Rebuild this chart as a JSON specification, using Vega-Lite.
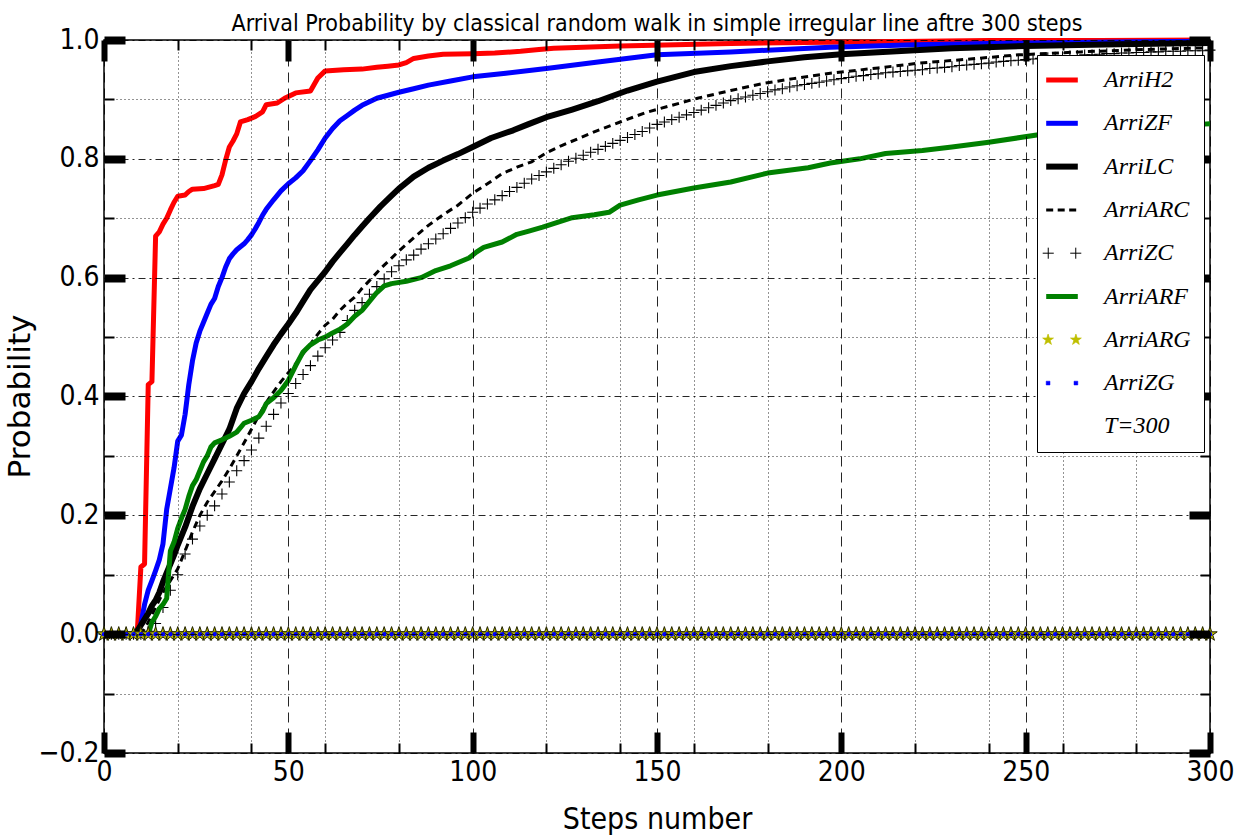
{
"$schema": "https://vega.github.io/schema/vega-lite/v6.json",
"width": 1106, "height": 713,
"autosize": {"type": "none"},
"padding": {"left": 104, "top": 40, "right": 33, "bottom": 86},
"background": "#ffffff",
"title": {"text": "Arrival Probability by classical random walk in simple irregular line aftre 300 steps", "font": "DejaVu Sans Condensed, Liberation Sans Narrow, DejaVu Sans", "fontSize": 23, "fontWeight": "normal", "color": "#000", "anchor": "middle", "frame": "group", "baseline": "alphabetic", "offset": -28},
"config": {"view": {"stroke": "#000", "strokeWidth": 1.5}},
"datasets": {
"lines": [
{"s":"ArriH2","x":0,"p":0},{"s":"ArriH2","x":9,"p":0},{"s":"ArriH2","x":10,"p":0.113},{"s":"ArriH2","x":11,"p":0.118},{"s":"ArriH2","x":12,"p":0.42},{"s":"ArriH2","x":13,"p":0.425},{"s":"ArriH2","x":14,"p":0.67},{"s":"ArriH2","x":15,"p":0.677},{"s":"ArriH2","x":16,"p":0.69},{"s":"ArriH2","x":17,"p":0.7},{"s":"ArriH2","x":18,"p":0.714},{"s":"ArriH2","x":19,"p":0.727},{"s":"ArriH2","x":20,"p":0.737},{"s":"ArriH2","x":22,"p":0.739},{"s":"ArriH2","x":23,"p":0.745},{"s":"ArriH2","x":24,"p":0.749},{"s":"ArriH2","x":27,"p":0.75},{"s":"ArriH2","x":30,"p":0.755},{"s":"ArriH2","x":31,"p":0.757},{"s":"ArriH2","x":32,"p":0.773},{"s":"ArriH2","x":33,"p":0.798},{"s":"ArriH2","x":34,"p":0.82},{"s":"ArriH2","x":35,"p":0.83},{"s":"ArriH2","x":36,"p":0.842},{"s":"ArriH2","x":37,"p":0.862},{"s":"ArriH2","x":39,"p":0.866},{"s":"ArriH2","x":41,"p":0.871},{"s":"ArriH2","x":43,"p":0.879},{"s":"ArriH2","x":44,"p":0.891},{"s":"ArriH2","x":47,"p":0.894},{"s":"ArriH2","x":49,"p":0.902},{"s":"ArriH2","x":50,"p":0.905},{"s":"ArriH2","x":52,"p":0.911},{"s":"ArriH2","x":56,"p":0.914},{"s":"ArriH2","x":57,"p":0.925},{"s":"ArriH2","x":58,"p":0.936},{"s":"ArriH2","x":60,"p":0.948},{"s":"ArriH2","x":65,"p":0.95},{"s":"ArriH2","x":70,"p":0.951},{"s":"ArriH2","x":74,"p":0.954},{"s":"ArriH2","x":77,"p":0.956},{"s":"ArriH2","x":80,"p":0.958},{"s":"ArriH2","x":82,"p":0.962},{"s":"ArriH2","x":84,"p":0.969},{"s":"ArriH2","x":88,"p":0.973},{"s":"ArriH2","x":92,"p":0.976},{"s":"ArriH2","x":100,"p":0.977},{"s":"ArriH2","x":106,"p":0.978},{"s":"ArriH2","x":113,"p":0.981},{"s":"ArriH2","x":118,"p":0.984},{"s":"ArriH2","x":122,"p":0.986},{"s":"ArriH2","x":130,"p":0.988},{"s":"ArriH2","x":140,"p":0.99},{"s":"ArriH2","x":155,"p":0.992},{"s":"ArriH2","x":170,"p":0.994},{"s":"ArriH2","x":190,"p":0.996},{"s":"ArriH2","x":210,"p":0.997},{"s":"ArriH2","x":240,"p":0.999},{"s":"ArriH2","x":270,"p":0.999},{"s":"ArriH2","x":300,"p":1.0},
{"s":"ArriZF","x":0,"p":0},{"s":"ArriZF","x":9,"p":0},{"s":"ArriZF","x":10,"p":0.018},{"s":"ArriZF","x":11,"p":0.05},{"s":"ArriZF","x":12,"p":0.074},{"s":"ArriZF","x":13,"p":0.09},{"s":"ArriZF","x":14,"p":0.107},{"s":"ArriZF","x":15,"p":0.125},{"s":"ArriZF","x":16,"p":0.152},{"s":"ArriZF","x":17,"p":0.21},{"s":"ArriZF","x":18,"p":0.245},{"s":"ArriZF","x":19,"p":0.28},{"s":"ArriZF","x":20,"p":0.325},{"s":"ArriZF","x":21,"p":0.335},{"s":"ArriZF","x":22,"p":0.37},{"s":"ArriZF","x":23,"p":0.42},{"s":"ArriZF","x":24,"p":0.46},{"s":"ArriZF","x":25,"p":0.49},{"s":"ArriZF","x":26,"p":0.51},{"s":"ArriZF","x":27,"p":0.525},{"s":"ArriZF","x":28,"p":0.54},{"s":"ArriZF","x":29,"p":0.555},{"s":"ArriZF","x":30,"p":0.565},{"s":"ArriZF","x":31,"p":0.585},{"s":"ArriZF","x":32,"p":0.6},{"s":"ArriZF","x":33,"p":0.618},{"s":"ArriZF","x":34,"p":0.632},{"s":"ArriZF","x":35,"p":0.64},{"s":"ArriZF","x":36,"p":0.647},{"s":"ArriZF","x":37,"p":0.652},{"s":"ArriZF","x":38,"p":0.657},{"s":"ArriZF","x":39,"p":0.664},{"s":"ArriZF","x":40,"p":0.672},{"s":"ArriZF","x":41,"p":0.682},{"s":"ArriZF","x":42,"p":0.693},{"s":"ArriZF","x":43,"p":0.705},{"s":"ArriZF","x":44,"p":0.715},{"s":"ArriZF","x":46,"p":0.731},{"s":"ArriZF","x":48,"p":0.746},{"s":"ArriZF","x":50,"p":0.758},{"s":"ArriZF","x":52,"p":0.768},{"s":"ArriZF","x":54,"p":0.78},{"s":"ArriZF","x":56,"p":0.797},{"s":"ArriZF","x":58,"p":0.815},{"s":"ArriZF","x":60,"p":0.835},{"s":"ArriZF","x":62,"p":0.851},{"s":"ArriZF","x":64,"p":0.864},{"s":"ArriZF","x":66,"p":0.873},{"s":"ArriZF","x":68,"p":0.882},{"s":"ArriZF","x":70,"p":0.89},{"s":"ArriZF","x":72,"p":0.896},{"s":"ArriZF","x":74,"p":0.902},{"s":"ArriZF","x":77,"p":0.907},{"s":"ArriZF","x":80,"p":0.912},{"s":"ArriZF","x":84,"p":0.918},{"s":"ArriZF","x":88,"p":0.924},{"s":"ArriZF","x":94,"p":0.931},{"s":"ArriZF","x":100,"p":0.938},{"s":"ArriZF","x":109,"p":0.944},{"s":"ArriZF","x":120,"p":0.952},{"s":"ArriZF","x":134,"p":0.963},{"s":"ArriZF","x":150,"p":0.975},{"s":"ArriZF","x":170,"p":0.98},{"s":"ArriZF","x":197,"p":0.988},{"s":"ArriZF","x":220,"p":0.992},{"s":"ArriZF","x":250,"p":0.995},{"s":"ArriZF","x":280,"p":0.997},{"s":"ArriZF","x":300,"p":0.998},
{"s":"ArriLC","x":0,"p":0},{"s":"ArriLC","x":8,"p":0},{"s":"ArriLC","x":9,"p":0.005},{"s":"ArriLC","x":10,"p":0.015},{"s":"ArriLC","x":11,"p":0.025},{"s":"ArriLC","x":12,"p":0.035},{"s":"ArriLC","x":13,"p":0.048},{"s":"ArriLC","x":14,"p":0.057},{"s":"ArriLC","x":15,"p":0.07},{"s":"ArriLC","x":16,"p":0.088},{"s":"ArriLC","x":17,"p":0.103},{"s":"ArriLC","x":18,"p":0.118},{"s":"ArriLC","x":19,"p":0.133},{"s":"ArriLC","x":20,"p":0.15},{"s":"ArriLC","x":22,"p":0.18},{"s":"ArriLC","x":24,"p":0.215},{"s":"ArriLC","x":26,"p":0.245},{"s":"ArriLC","x":28,"p":0.27},{"s":"ArriLC","x":30,"p":0.295},{"s":"ArriLC","x":32,"p":0.32},{"s":"ArriLC","x":34,"p":0.345},{"s":"ArriLC","x":36,"p":0.38},{"s":"ArriLC","x":38,"p":0.405},{"s":"ArriLC","x":40,"p":0.425},{"s":"ArriLC","x":42,"p":0.447},{"s":"ArriLC","x":44,"p":0.467},{"s":"ArriLC","x":46,"p":0.487},{"s":"ArriLC","x":48,"p":0.505},{"s":"ArriLC","x":50,"p":0.522},{"s":"ArriLC","x":52,"p":0.54},{"s":"ArriLC","x":54,"p":0.56},{"s":"ArriLC","x":56,"p":0.58},{"s":"ArriLC","x":58,"p":0.595},{"s":"ArriLC","x":60,"p":0.61},{"s":"ArriLC","x":62,"p":0.627},{"s":"ArriLC","x":64,"p":0.642},{"s":"ArriLC","x":66,"p":0.657},{"s":"ArriLC","x":68,"p":0.672},{"s":"ArriLC","x":70,"p":0.686},{"s":"ArriLC","x":72,"p":0.7},{"s":"ArriLC","x":75,"p":0.72},{"s":"ArriLC","x":78,"p":0.738},{"s":"ArriLC","x":80,"p":0.75},{"s":"ArriLC","x":84,"p":0.77},{"s":"ArriLC","x":88,"p":0.785},{"s":"ArriLC","x":92,"p":0.797},{"s":"ArriLC","x":96,"p":0.808},{"s":"ArriLC","x":100,"p":0.82},{"s":"ArriLC","x":105,"p":0.835},{"s":"ArriLC","x":111,"p":0.848},{"s":"ArriLC","x":115,"p":0.858},{"s":"ArriLC","x":120,"p":0.87},{"s":"ArriLC","x":127,"p":0.883},{"s":"ArriLC","x":134,"p":0.897},{"s":"ArriLC","x":142,"p":0.915},{"s":"ArriLC","x":150,"p":0.93},{"s":"ArriLC","x":160,"p":0.946},{"s":"ArriLC","x":170,"p":0.956},{"s":"ArriLC","x":180,"p":0.964},{"s":"ArriLC","x":190,"p":0.971},{"s":"ArriLC","x":200,"p":0.976},{"s":"ArriLC","x":215,"p":0.981},{"s":"ArriLC","x":230,"p":0.986},{"s":"ArriLC","x":250,"p":0.99},{"s":"ArriLC","x":275,"p":0.993},{"s":"ArriLC","x":300,"p":0.995},
{"s":"ArriARC","x":0,"p":0},{"s":"ArriARC","x":10,"p":0},{"s":"ArriARC","x":12,"p":0.02},{"s":"ArriARC","x":14,"p":0.045},{"s":"ArriARC","x":16,"p":0.07},{"s":"ArriARC","x":18,"p":0.09},{"s":"ArriARC","x":20,"p":0.11},{"s":"ArriARC","x":22,"p":0.14},{"s":"ArriARC","x":24,"p":0.172},{"s":"ArriARC","x":26,"p":0.2},{"s":"ArriARC","x":28,"p":0.222},{"s":"ArriARC","x":30,"p":0.24},{"s":"ArriARC","x":32,"p":0.258},{"s":"ArriARC","x":34,"p":0.278},{"s":"ArriARC","x":36,"p":0.3},{"s":"ArriARC","x":38,"p":0.322},{"s":"ArriARC","x":40,"p":0.345},{"s":"ArriARC","x":42,"p":0.368},{"s":"ArriARC","x":44,"p":0.39},{"s":"ArriARC","x":46,"p":0.408},{"s":"ArriARC","x":48,"p":0.425},{"s":"ArriARC","x":50,"p":0.44},{"s":"ArriARC","x":52,"p":0.455},{"s":"ArriARC","x":54,"p":0.472},{"s":"ArriARC","x":56,"p":0.488},{"s":"ArriARC","x":58,"p":0.505},{"s":"ArriARC","x":60,"p":0.52},{"s":"ArriARC","x":62,"p":0.53},{"s":"ArriARC","x":64,"p":0.545},{"s":"ArriARC","x":66,"p":0.557},{"s":"ArriARC","x":68,"p":0.567},{"s":"ArriARC","x":70,"p":0.582},{"s":"ArriARC","x":72,"p":0.595},{"s":"ArriARC","x":75,"p":0.615},{"s":"ArriARC","x":78,"p":0.633},{"s":"ArriARC","x":80,"p":0.645},{"s":"ArriARC","x":84,"p":0.667},{"s":"ArriARC","x":88,"p":0.688},{"s":"ArriARC","x":92,"p":0.706},{"s":"ArriARC","x":96,"p":0.722},{"s":"ArriARC","x":100,"p":0.742},{"s":"ArriARC","x":104,"p":0.758},{"s":"ArriARC","x":108,"p":0.775},{"s":"ArriARC","x":112,"p":0.786},{"s":"ArriARC","x":116,"p":0.795},{"s":"ArriARC","x":120,"p":0.81},{"s":"ArriARC","x":124,"p":0.822},{"s":"ArriARC","x":129,"p":0.835},{"s":"ArriARC","x":134,"p":0.848},{"s":"ArriARC","x":140,"p":0.862},{"s":"ArriARC","x":147,"p":0.878},{"s":"ArriARC","x":154,"p":0.89},{"s":"ArriARC","x":161,"p":0.902},{"s":"ArriARC","x":170,"p":0.915},{"s":"ArriARC","x":179,"p":0.927},{"s":"ArriARC","x":187,"p":0.935},{"s":"ArriARC","x":197,"p":0.944},{"s":"ArriARC","x":210,"p":0.953},{"s":"ArriARC","x":221,"p":0.961},{"s":"ArriARC","x":235,"p":0.968},{"s":"ArriARC","x":248,"p":0.975},{"s":"ArriARC","x":265,"p":0.98},{"s":"ArriARC","x":282,"p":0.984},{"s":"ArriARC","x":300,"p":0.987},
{"s":"ArriARF","x":0,"p":0},{"s":"ArriARF","x":12,"p":0},{"s":"ArriARF","x":13,"p":0.02},{"s":"ArriARF","x":14,"p":0.03},{"s":"ArriARF","x":15,"p":0.043},{"s":"ArriARF","x":16,"p":0.05},{"s":"ArriARF","x":17,"p":0.06},{"s":"ArriARF","x":18,"p":0.14},{"s":"ArriARF","x":19,"p":0.155},{"s":"ArriARF","x":20,"p":0.178},{"s":"ArriARF","x":21,"p":0.195},{"s":"ArriARF","x":22,"p":0.21},{"s":"ArriARF","x":23,"p":0.232},{"s":"ArriARF","x":24,"p":0.25},{"s":"ArriARF","x":25,"p":0.26},{"s":"ArriARF","x":26,"p":0.275},{"s":"ArriARF","x":27,"p":0.29},{"s":"ArriARF","x":28,"p":0.3},{"s":"ArriARF","x":29,"p":0.315},{"s":"ArriARF","x":30,"p":0.322},{"s":"ArriARF","x":32,"p":0.327},{"s":"ArriARF","x":34,"p":0.333},{"s":"ArriARF","x":36,"p":0.34},{"s":"ArriARF","x":38,"p":0.355},{"s":"ArriARF","x":40,"p":0.36},{"s":"ArriARF","x":42,"p":0.366},{"s":"ArriARF","x":43,"p":0.375},{"s":"ArriARF","x":44,"p":0.388},{"s":"ArriARF","x":46,"p":0.398},{"s":"ArriARF","x":48,"p":0.41},{"s":"ArriARF","x":50,"p":0.427},{"s":"ArriARF","x":52,"p":0.452},{"s":"ArriARF","x":54,"p":0.475},{"s":"ArriARF","x":56,"p":0.487},{"s":"ArriARF","x":58,"p":0.495},{"s":"ArriARF","x":60,"p":0.5},{"s":"ArriARF","x":62,"p":0.507},{"s":"ArriARF","x":64,"p":0.513},{"s":"ArriARF","x":66,"p":0.522},{"s":"ArriARF","x":68,"p":0.535},{"s":"ArriARF","x":70,"p":0.545},{"s":"ArriARF","x":72,"p":0.56},{"s":"ArriARF","x":74,"p":0.575},{"s":"ArriARF","x":76,"p":0.586},{"s":"ArriARF","x":78,"p":0.59},{"s":"ArriARF","x":82,"p":0.594},{"s":"ArriARF","x":86,"p":0.6},{"s":"ArriARF","x":90,"p":0.612},{"s":"ArriARF","x":94,"p":0.62},{"s":"ArriARF","x":99,"p":0.633},{"s":"ArriARF","x":101,"p":0.643},{"s":"ArriARF","x":103,"p":0.651},{"s":"ArriARF","x":108,"p":0.66},{"s":"ArriARF","x":112,"p":0.673},{"s":"ArriARF","x":115,"p":0.678},{"s":"ArriARF","x":119,"p":0.685},{"s":"ArriARF","x":123,"p":0.693},{"s":"ArriARF","x":127,"p":0.701},{"s":"ArriARF","x":133,"p":0.706},{"s":"ArriARF","x":137,"p":0.71},{"s":"ArriARF","x":140,"p":0.722},{"s":"ArriARF","x":145,"p":0.731},{"s":"ArriARF","x":150,"p":0.739},{"s":"ArriARF","x":160,"p":0.751},{"s":"ArriARF","x":170,"p":0.761},{"s":"ArriARF","x":180,"p":0.776},{"s":"ArriARF","x":191,"p":0.785},{"s":"ArriARF","x":197,"p":0.793},{"s":"ArriARF","x":205,"p":0.8},{"s":"ArriARF","x":212,"p":0.809},{"s":"ArriARF","x":222,"p":0.814},{"s":"ArriARF","x":230,"p":0.82},{"s":"ArriARF","x":240,"p":0.828},{"s":"ArriARF","x":253,"p":0.84},{"s":"ArriARF","x":265,"p":0.845},{"s":"ArriARF","x":280,"p":0.85},{"s":"ArriARF","x":290,"p":0.853},{"s":"ArriARF","x":297,"p":0.858},{"s":"ArriARF","x":300,"p":0.859}
],
"dense": [
{"x":0,"zc":0,"arg":0,"zg":0},{"x":2,"zc":0,"arg":0,"zg":0},{"x":4,"zc":0,"arg":0,"zg":0},{"x":6,"zc":0,"arg":0,"zg":0},{"x":8,"zc":0,"arg":0,"zg":0},{"x":10,"zc":0,"arg":0,"zg":0},{"x":12,"zc":0.005,"arg":0,"zg":0},{"x":14,"zc":0.018,"arg":0,"zg":0},{"x":16,"zc":0.045,"arg":0,"zg":0},{"x":18,"zc":0.074,"arg":0,"zg":0},{"x":20,"zc":0.1,"arg":0,"zg":0},{"x":22,"zc":0.135,"arg":0,"zg":0},{"x":24,"zc":0.16,"arg":0,"zg":0},{"x":26,"zc":0.182,"arg":0,"zg":0},{"x":28,"zc":0.2,"arg":0,"zg":0},{"x":30,"zc":0.216,"arg":0,"zg":0},{"x":32,"zc":0.236,"arg":0,"zg":0},{"x":34,"zc":0.256,"arg":0,"zg":0},{"x":36,"zc":0.275,"arg":0,"zg":0},{"x":38,"zc":0.292,"arg":0,"zg":0},{"x":40,"zc":0.31,"arg":0,"zg":0},{"x":42,"zc":0.33,"arg":0,"zg":0},{"x":44,"zc":0.35,"arg":0,"zg":0},{"x":46,"zc":0.37,"arg":0,"zg":0},{"x":48,"zc":0.389,"arg":0,"zg":0},{"x":50,"zc":0.405,"arg":0,"zg":0},{"x":52,"zc":0.422,"arg":0,"zg":0},{"x":54,"zc":0.437,"arg":0,"zg":0},{"x":56,"zc":0.452,"arg":0,"zg":0},{"x":58,"zc":0.468,"arg":0,"zg":0},{"x":60,"zc":0.482,"arg":0,"zg":0},{"x":62,"zc":0.495,"arg":0,"zg":0},{"x":64,"zc":0.508,"arg":0,"zg":0},{"x":66,"zc":0.528,"arg":0,"zg":0},{"x":68,"zc":0.545,"arg":0,"zg":0},{"x":70,"zc":0.558,"arg":0,"zg":0},{"x":72,"zc":0.572,"arg":0,"zg":0},{"x":74,"zc":0.585,"arg":0,"zg":0},{"x":76,"zc":0.598,"arg":0,"zg":0},{"x":78,"zc":0.61,"arg":0,"zg":0},{"x":80,"zc":0.62,"arg":0,"zg":0},{"x":82,"zc":0.63,"arg":0,"zg":0},{"x":84,"zc":0.638,"arg":0,"zg":0},{"x":86,"zc":0.648,"arg":0,"zg":0},{"x":88,"zc":0.657,"arg":0,"zg":0},{"x":90,"zc":0.665,"arg":0,"zg":0},{"x":92,"zc":0.674,"arg":0,"zg":0},{"x":94,"zc":0.683,"arg":0,"zg":0},{"x":96,"zc":0.692,"arg":0,"zg":0},{"x":98,"zc":0.701,"arg":0,"zg":0},{"x":100,"zc":0.71,"arg":0,"zg":0},
{"x":102,"zc":0.717,"arg":0,"zg":0},{"x":104,"zc":0.724,"arg":0,"zg":0},{"x":106,"zc":0.731,"arg":0,"zg":0},{"x":108,"zc":0.738,"arg":0,"zg":0},{"x":110,"zc":0.745,"arg":0,"zg":0},{"x":112,"zc":0.752,"arg":0,"zg":0},{"x":114,"zc":0.759,"arg":0,"zg":0},{"x":116,"zc":0.766,"arg":0,"zg":0},{"x":118,"zc":0.772,"arg":0,"zg":0},{"x":120,"zc":0.778,"arg":0,"zg":0},{"x":122,"zc":0.784,"arg":0,"zg":0},{"x":124,"zc":0.79,"arg":0,"zg":0},{"x":126,"zc":0.796,"arg":0,"zg":0},{"x":128,"zc":0.801,"arg":0,"zg":0},{"x":130,"zc":0.806,"arg":0,"zg":0},{"x":132,"zc":0.811,"arg":0,"zg":0},{"x":134,"zc":0.816,"arg":0,"zg":0},{"x":136,"zc":0.821,"arg":0,"zg":0},{"x":138,"zc":0.826,"arg":0,"zg":0},{"x":140,"zc":0.831,"arg":0,"zg":0},{"x":142,"zc":0.836,"arg":0,"zg":0},{"x":144,"zc":0.841,"arg":0,"zg":0},{"x":146,"zc":0.846,"arg":0,"zg":0},{"x":148,"zc":0.852,"arg":0,"zg":0},{"x":150,"zc":0.858,"arg":0,"zg":0},{"x":152,"zc":0.862,"arg":0,"zg":0},{"x":154,"zc":0.866,"arg":0,"zg":0},{"x":156,"zc":0.87,"arg":0,"zg":0},{"x":158,"zc":0.874,"arg":0,"zg":0},{"x":160,"zc":0.878,"arg":0,"zg":0},{"x":162,"zc":0.882,"arg":0,"zg":0},{"x":164,"zc":0.886,"arg":0,"zg":0},{"x":166,"zc":0.89,"arg":0,"zg":0},{"x":168,"zc":0.894,"arg":0,"zg":0},{"x":170,"zc":0.898,"arg":0,"zg":0},{"x":172,"zc":0.901,"arg":0,"zg":0},{"x":174,"zc":0.904,"arg":0,"zg":0},{"x":176,"zc":0.907,"arg":0,"zg":0},{"x":178,"zc":0.91,"arg":0,"zg":0},{"x":180,"zc":0.913,"arg":0,"zg":0},{"x":182,"zc":0.916,"arg":0,"zg":0},{"x":184,"zc":0.918,"arg":0,"zg":0},{"x":186,"zc":0.921,"arg":0,"zg":0},{"x":188,"zc":0.923,"arg":0,"zg":0},{"x":190,"zc":0.925,"arg":0,"zg":0},{"x":192,"zc":0.927,"arg":0,"zg":0},{"x":194,"zc":0.929,"arg":0,"zg":0},{"x":196,"zc":0.931,"arg":0,"zg":0},{"x":198,"zc":0.933,"arg":0,"zg":0},{"x":200,"zc":0.935,"arg":0,"zg":0},
{"x":202,"zc":0.937,"arg":0,"zg":0},{"x":204,"zc":0.939,"arg":0,"zg":0},{"x":206,"zc":0.94,"arg":0,"zg":0},{"x":208,"zc":0.942,"arg":0,"zg":0},{"x":210,"zc":0.943,"arg":0,"zg":0},{"x":212,"zc":0.945,"arg":0,"zg":0},{"x":214,"zc":0.946,"arg":0,"zg":0},{"x":216,"zc":0.947,"arg":0,"zg":0},{"x":218,"zc":0.948,"arg":0,"zg":0},{"x":220,"zc":0.949,"arg":0,"zg":0},{"x":222,"zc":0.95,"arg":0,"zg":0},{"x":224,"zc":0.952,"arg":0,"zg":0},{"x":226,"zc":0.953,"arg":0,"zg":0},{"x":228,"zc":0.954,"arg":0,"zg":0},{"x":230,"zc":0.955,"arg":0,"zg":0},{"x":232,"zc":0.957,"arg":0,"zg":0},{"x":234,"zc":0.958,"arg":0,"zg":0},{"x":236,"zc":0.959,"arg":0,"zg":0},{"x":238,"zc":0.96,"arg":0,"zg":0},{"x":240,"zc":0.961,"arg":0,"zg":0},{"x":242,"zc":0.963,"arg":0,"zg":0},{"x":244,"zc":0.964,"arg":0,"zg":0},{"x":246,"zc":0.965,"arg":0,"zg":0},{"x":248,"zc":0.966,"arg":0,"zg":0},{"x":250,"zc":0.967,"arg":0,"zg":0},{"x":252,"zc":0.968,"arg":0,"zg":0},{"x":254,"zc":0.969,"arg":0,"zg":0},{"x":256,"zc":0.97,"arg":0,"zg":0},{"x":258,"zc":0.971,"arg":0,"zg":0},{"x":260,"zc":0.972,"arg":0,"zg":0},{"x":262,"zc":0.973,"arg":0,"zg":0},{"x":264,"zc":0.974,"arg":0,"zg":0},{"x":266,"zc":0.975,"arg":0,"zg":0},{"x":268,"zc":0.975,"arg":0,"zg":0},{"x":270,"zc":0.976,"arg":0,"zg":0},{"x":272,"zc":0.977,"arg":0,"zg":0},{"x":274,"zc":0.977,"arg":0,"zg":0},{"x":276,"zc":0.978,"arg":0,"zg":0},{"x":278,"zc":0.978,"arg":0,"zg":0},{"x":280,"zc":0.979,"arg":0,"zg":0},{"x":282,"zc":0.979,"arg":0,"zg":0},{"x":284,"zc":0.98,"arg":0,"zg":0},{"x":286,"zc":0.98,"arg":0,"zg":0},{"x":288,"zc":0.981,"arg":0,"zg":0},{"x":290,"zc":0.981,"arg":0,"zg":0},{"x":292,"zc":0.981,"arg":0,"zg":0},{"x":294,"zc":0.982,"arg":0,"zg":0},{"x":296,"zc":0.982,"arg":0,"zg":0},{"x":298,"zc":0.982,"arg":0,"zg":0},{"x":300,"zc":0.983,"arg":0,"zg":0}
]
},
"resolve": {"axis": {"x": "independent", "y": "independent"}},
"layer": [
{
 "data": {"name": "lines"},
 "transform": [{"filter": "datum.s === 'ArriH2'"}],
 "mark": {"type": "line", "strokeWidth": 5, "strokeJoin": "round"},
 "encoding": {
  "x": {"field": "x", "type": "quantitative", "scale": {"domain": [0, 300], "nice": false, "zero": false},
   "axis": {"orient": "bottom", "values": [0,20,40,50,60,80,100,120,140,150,160,180,200,220,240,250,260,280,300], "domain": false, "grid": true, "gridColor": "#000", "gridOpacity": 0.85, "gridWidth": 1,
    "gridDash": {"condition": {"test": "datum.value % 50 === 0", "value": [10, 6]}, "value": [1, 3]},
    "ticks": true, "tickSize": -10, "tickWidth": 2, "tickColor": "#000",
    "labelExpr": "datum.value % 50 === 0 ? datum.label : ''", "labelOverlap": false, "labelFlush": false, "labelFont": "DejaVu Sans Condensed, Liberation Sans Narrow, DejaVu Sans", "labelFontSize": 28, "labelColor": "#000", "labelPadding": 15, "title": "Steps number", "titleFont": "DejaVu Sans Condensed, Liberation Sans Narrow, DejaVu Sans", "titleFontSize": 30, "titleFontWeight": "normal", "titleColor": "#000", "titleX": 553, "titleY": 75, "titleBaseline": "alphabetic", "titleAlign": "center", "zindex": 1}},
  "y": {"field": "p", "type": "quantitative", "scale": {"domain": [-0.2, 1.0], "nice": false, "zero": false},
   "axis": {"orient": "left", "values": [-0.2,-0.1,0,0.1,0.2,0.3,0.4,0.5,0.6,0.7,0.8,0.9,1.0], "domain": false, "grid": true, "gridColor": "#000", "gridOpacity": 0.85, "gridWidth": 1,
    "gridDash": {"condition": {"test": "abs(round(datum.value*10)) % 2 === 0", "value": [7, 4, 2, 4]}, "value": [1, 3]},
    "ticks": true, "tickSize": -10, "tickWidth": 2, "tickColor": "#000",
    "labelExpr": "abs(round(datum.value*10)) % 2 === 0 ? format(datum.value, '.1f') : ''", "labelOverlap": false, "labelFlush": false, "labelFont": "DejaVu Sans Condensed, Liberation Sans Narrow, DejaVu Sans", "labelFontSize": 28, "labelColor": "#000", "labelPadding": 15, "title": "Probability", "titleFont": "DejaVu Sans", "titleFontSize": 31, "titleFontWeight": "normal", "titleColor": "#000", "titleX": -68, "titleY": 356, "titleAngle": -90, "titleBaseline": "bottom", "titleAlign": "center", "zindex": 1}},
  "color": {"field": "s", "type": "nominal",
   "scale": {"domain": ["ArriH2","ArriZF","ArriLC","ArriARC","ArriZC","ArriARF","ArriARG","ArriZG","T=300"], "range": ["#ff0000","#0000ff","#000000","#000000","#000000","#008000","#bfbf00","#0000ff","#ffffff"]},
   "legend": {"orient": "none", "legendX": 933, "legendY": 15, "title": null, "direction": "vertical", "padding": 13, "rowPadding": 19.3, "symbolSize": 1000, "symbolType": "stroke", "labelFont": "Liberation Serif", "labelFontStyle": "italic", "labelFontSize": 24, "labelColor": "#000", "labelOffset": 30, "labelLimit": 200, "strokeColor": "#000", "fillColor": "#fff", "cornerRadius": 0, "zindex": 2,
    "encode": {"symbols": {"update": {
      "shape": {"signal": "datum.value === 'ArriZC' ? 'M-1.22,0L-0.52,0M-0.87,-0.35L-0.87,0.35M0.52,0L1.22,0M0.87,-0.35L0.87,0.35' : datum.value === 'ArriARG' ? 'M-0.88,-0.36L-0.799,-0.111L-0.538,-0.111L-0.749,0.042L-0.668,0.291L-0.88,0.138L-1.092,0.291L-1.011,0.042L-1.222,-0.111L-0.961,-0.111ZM0.88,-0.36L0.961,-0.111L1.222,-0.111L1.011,0.042L1.092,0.291L0.88,0.138L0.668,0.291L0.749,0.042L0.538,-0.111L0.799,-0.111Z' : datum.value === 'ArriZG' ? 'M-1.0,-0.12L-0.76,-0.12L-0.76,0.12L-1.0,0.12ZM0.76,-0.12L1.0,-0.12L1.0,0.12L0.76,0.12Z' : 'stroke'"},
      "stroke": {"signal": "datum.value === 'ArriH2' ? '#ff0000' : (datum.value === 'ArriZF' || datum.value === 'ArriZG') ? '#0000ff' : datum.value === 'ArriARF' ? '#008000' : datum.value === 'T=300' ? 'transparent' : '#000000'"},
      "fill": {"signal": "datum.value === 'ArriARG' ? '#bfbf00' : datum.value === 'ArriZG' ? '#0000ff' : 'transparent'"},
      "strokeWidth": {"signal": "datum.value === 'ArriLC' ? 6 : datum.value === 'ArriARC' ? 3 : datum.value === 'ArriZC' ? 1 : datum.value === 'ArriARG' ? 0.7 : datum.value === 'ArriZG' ? 0.5 : 5"},
      "strokeDash": {"signal": "datum.value === 'ArriARC' ? [7,4.5] : null"},
      "opacity": {"value": 1}
    }}}}
  }
 }
},
{
 "data": {"name": "lines"},
 "transform": [{"filter": "datum.s === 'ArriZF'"}],
 "mark": {"type": "line", "strokeWidth": 5, "strokeJoin": "round", "color": "#0000ff"},
 "encoding": {
  "x": {"field": "x", "type": "quantitative", "axis": {"orient": "bottom", "values": [0,50,100,150,200,250,300], "domain": false, "grid": false, "labels": false, "ticks": true, "tickSize": -21, "tickWidth": 6, "tickColor": "#000", "title": null, "zindex": 1}},
  "y": {"field": "p", "type": "quantitative", "axis": {"orient": "left", "values": [-0.2,0,0.2,0.4,0.6,0.8,1.0], "domain": false, "grid": false, "labels": false, "ticks": true, "tickSize": -21, "tickWidth": 8, "tickColor": "#000", "title": null, "zindex": 1}}
 }
},
{
 "data": {"name": "lines"},
 "transform": [{"filter": "datum.s === 'ArriLC'"}],
 "mark": {"type": "line", "strokeWidth": 6, "strokeJoin": "round", "color": "#000000"},
 "encoding": {
  "x": {"field": "x", "type": "quantitative", "axis": {"orient": "top", "values": [0,50,100,150,200,250,300], "domain": false, "grid": false, "labels": false, "ticks": true, "tickSize": -21, "tickWidth": 6, "tickColor": "#000", "title": null, "zindex": 1}},
  "y": {"field": "p", "type": "quantitative", "axis": {"orient": "right", "values": [-0.2,0,0.2,0.4,0.6,0.8,1.0], "domain": false, "grid": false, "labels": false, "ticks": true, "tickSize": -21, "tickWidth": 8, "tickColor": "#000", "title": null, "zindex": 1}}
 }
},
{
 "data": {"name": "lines"},
 "transform": [{"filter": "datum.s === 'ArriARC'"}],
 "mark": {"type": "line", "strokeWidth": 3, "strokeDash": [7, 5], "color": "#000000"},
 "encoding": {"x": {"field": "x", "type": "quantitative", "axis": null}, "y": {"field": "p", "type": "quantitative", "axis": null}}
},
{
 "data": {"name": "dense"},
 "mark": {"type": "point", "shape": "M-1,0L1,0M0,-1L0,1", "size": 120, "filled": false, "stroke": "#000000", "strokeWidth": 1.1, "opacity": 1},
 "encoding": {"x": {"field": "x", "type": "quantitative", "axis": null}, "y": {"field": "zc", "type": "quantitative", "axis": null}}
},
{
 "data": {"name": "lines"},
 "transform": [{"filter": "datum.s === 'ArriARF'"}],
 "mark": {"type": "line", "strokeWidth": 5, "strokeJoin": "round", "color": "#008000"},
 "encoding": {"x": {"field": "x", "type": "quantitative", "axis": null}, "y": {"field": "p", "type": "quantitative", "axis": null}}
},
{
 "data": {"name": "dense"},
 "mark": {"type": "point", "shape": "M0,-1L0.225,-0.309L0.951,-0.309L0.363,0.118L0.588,0.809L0,0.382L-0.588,0.809L-0.363,0.118L-0.951,-0.309L-0.225,-0.309Z", "size": 230, "filled": true, "fill": "#bfbf00", "stroke": "#222200", "strokeWidth": 1, "opacity": 1},
 "encoding": {"x": {"field": "x", "type": "quantitative", "axis": null}, "y": {"field": "arg", "type": "quantitative", "axis": null}}
},
{
 "data": {"name": "dense"},
 "mark": {"type": "point", "shape": "circle", "size": 20, "filled": true, "color": "#0000ff", "opacity": 1},
 "encoding": {
  "x": {"field": "x", "type": "quantitative",
   "axis": {"orient": "top", "values": [0,20,40,50,60,80,100,120,140,150,160,180,200,220,240,250,260,280,300], "domain": false, "grid": false, "labels": false, "ticks": true, "tickSize": -10, "tickWidth": 2, "tickColor": "#000", "title": null, "zindex": 1}},
  "y": {"field": "zg", "type": "quantitative",
   "axis": {"orient": "right", "values": [-0.2,-0.1,0,0.1,0.2,0.3,0.4,0.5,0.6,0.7,0.8,0.9,1.0], "domain": false, "grid": false, "labels": false, "ticks": true, "tickSize": -10, "tickWidth": 2, "tickColor": "#000", "title": null, "zindex": 1}}
 }
}
]
}
